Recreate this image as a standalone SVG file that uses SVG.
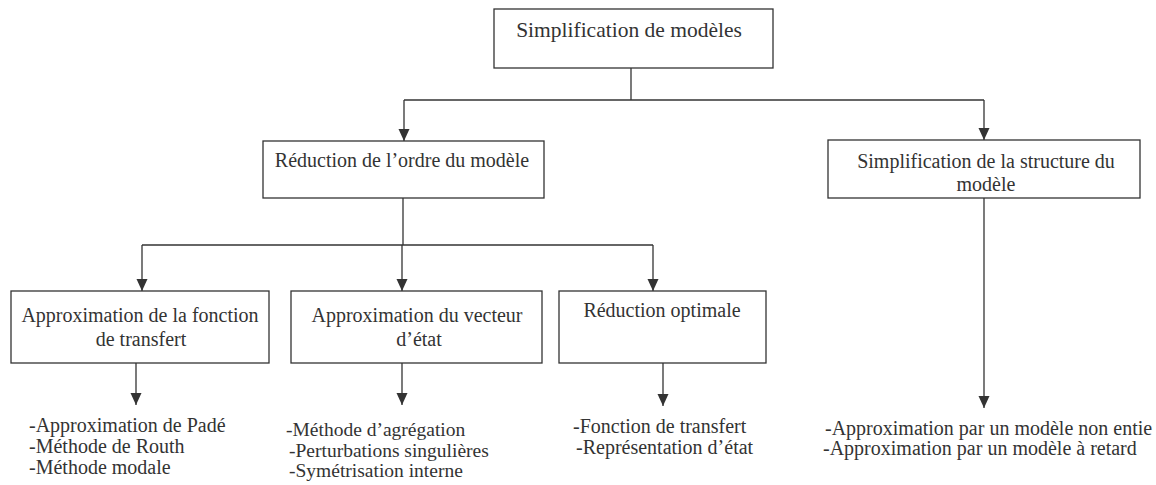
<svg xmlns="http://www.w3.org/2000/svg" width="1156" height="485" viewBox="0 0 1156 485">
<style>
  text { font-family: "Liberation Serif", "Times New Roman", serif; font-size: 20px; fill: #333; }
  .c { text-anchor: middle; }
  .box { fill: #fff; stroke: #333; stroke-width: 1.3; }
  .ln { fill: none; stroke: #333; stroke-width: 1.3; }
  .sm { font-size: 19.5px; }
</style>
<defs>
  <marker id="ah" markerUnits="userSpaceOnUse" markerWidth="13" markerHeight="12" refX="12" refY="6" orient="auto">
    <path d="M0,0.5 L12,6 L0,11.5 z" fill="#333"/>
  </marker>
</defs>
<rect width="1156" height="485" fill="#fff"/>
<g id="connectors">
  <path class="ln" d="M631,68 V100"/>
  <path class="ln" d="M404,100 H984"/>
  <path class="ln" d="M404,100 V141" marker-end="url(#ah)"/>
  <path class="ln" d="M984,100 V140" marker-end="url(#ah)"/>
  <path class="ln" d="M403,198 V245"/>
  <path class="ln" d="M142,245 H653"/>
  <path class="ln" d="M142,245 V291" marker-end="url(#ah)"/>
  <path class="ln" d="M402,245 V291" marker-end="url(#ah)"/>
  <path class="ln" d="M653,245 V291" marker-end="url(#ah)"/>
  <path class="ln" d="M136,363 V405" marker-end="url(#ah)"/>
  <path class="ln" d="M402,363 V405" marker-end="url(#ah)"/>
  <path class="ln" d="M663,363 V406" marker-end="url(#ah)"/>
  <path class="ln" d="M984,198 V408" marker-end="url(#ah)"/>
</g>
<g id="n-root">
  <rect class="box" x="494" y="9" width="279" height="59"/>
  <text class="c" x="629" y="37" style="font-size:21.5px">Simplification de modèles</text>
</g>
<g id="n-reduction">
  <rect class="box" x="263" y="141" width="281" height="57"/>
  <text class="c" x="402" y="167">Réduction de l’ordre du modèle</text>
</g>
<g id="n-structure">
  <rect class="box" x="828" y="140" width="312" height="58"/>
  <text class="c" x="986" y="168">Simplification de la structure du</text>
  <text class="c" x="986" y="191">modèle</text>
</g>
<g id="n-fonction">
  <rect class="box" x="11" y="291" width="258" height="72"/>
  <text class="c" x="140" y="322">Approximation de la fonction</text>
  <text class="c" x="141" y="346">de transfert</text>
</g>
<g id="n-vecteur">
  <rect class="box" x="291" y="291" width="251" height="72"/>
  <text class="c" x="417" y="322">Approximation du vecteur</text>
  <text class="c" x="419" y="346">d’état</text>
</g>
<g id="n-optimale">
  <rect class="box" x="559" y="291" width="207" height="72"/>
  <text class="c" x="662" y="317">Réduction optimale</text>
</g>
<g id="l-fonction">
  <text x="29" y="432">-Approximation de Padé</text>
  <text x="29" y="453">-Méthode de Routh</text>
  <text x="29" y="474">-Méthode modale</text>
</g>
<g id="l-vecteur">
  <text class="sm" x="286" y="436">-Méthode d’agrégation</text>
  <text class="sm" x="289" y="456.5">-Perturbations singulières</text>
  <text class="sm" x="289" y="477">-Symétrisation  interne</text>
</g>
<g id="l-optimale">
  <text x="573" y="433">-Fonction de transfert</text>
  <text x="576" y="454">-Représentation d’état</text>
</g>
<g id="l-structure">
  <text x="825" y="435">-Approximation par un modèle non entie</text>
  <text x="823" y="455">-Approximation par un modèle à retard</text>
</g>
</svg>
